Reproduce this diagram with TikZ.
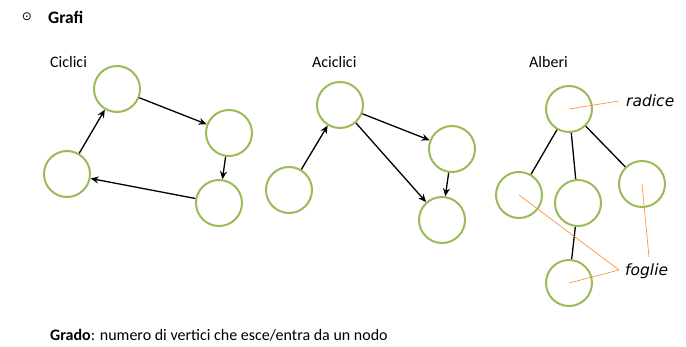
\documentclass[tikz,border=0pt]{standalone}
\usepackage{fontspec}
\setmainfont{Carlito}
\newfontfamily\symbolfont{DejaVu Sans}
\usetikzlibrary{positioning}
\usetikzlibrary{arrows.meta}
\definecolor{vertexGreen}{RGB}{155,187,89}
\definecolor{noteOrange}{RGB}{247,150,70}
\tikzset{
  vertex/.style={circle, draw=vertexGreen, line width=2pt, minimum size=46pt, inner sep=0pt},
  arc/.style={-{Stealth[length=8pt,width=7pt]}, line width=1.3pt, black},
  branch/.style={line width=1.3pt, black},
  note/.style={noteOrange, line width=0.7pt},
  caption/.style={anchor=west, font=\fontsize{16}{18}\selectfont, inner sep=0pt},
  remark/.style={anchor=west, font=\symbolfont\fontsize{15.5}{18}\selectfont\itshape, inner sep=0pt}
}
\begin{document}
\begin{tikzpicture}[x=1pt, y=-1pt]
		\useasboundingbox (0,0) rectangle (686,347);
		\node(bulletMark) at (27,17){\symbolfont\fontsize{12}{12}\selectfont ⊙};
		\node[caption, font=\fontsize{17.5}{20}\selectfont\bfseries](titleLabel) at (48,17){Grafi};
		\node[caption](cycLabel) at (50,62){Ciclici};
		\node[caption](acycLabel) at (312,62){Aciclici};
		\node[caption](treeLabel) at (529,62){Alberi};
		\node[vertex](cycTop) at (117,89){};
		\node[vertex](cycRight) at (229,133){};
		\node[vertex](cycBottom) at (219,203){};
		\node[vertex](cycLeft) at (67,174){};
		\draw[arc] (cycTop) -- (cycRight);
		\draw[arc] (cycRight) -- (cycBottom);
		\draw[arc] (cycBottom) -- (cycLeft);
		\draw[arc] (cycLeft) -- (cycTop);
		\node[vertex](acycTop) at (340,105){};
		\node[vertex](acycRight) at (452,149){};
		\node[vertex](acycBottom) at (442,220){};
		\node[vertex](acycLeft) at (289,190){};
		\draw[arc] (acycLeft) -- (acycTop);
		\draw[arc] (acycTop) -- (acycRight);
		\draw[arc] (acycTop) -- (acycBottom);
		\draw[arc] (acycRight) -- (acycBottom);
		\node[vertex](treeRoot) at (569,109){};
		\node[vertex](treeLeft) at (519,195){};
		\node[vertex](treeMid) at (578,203){};
		\node[vertex](treeRight) at (642,184){};
		\node[vertex](treeLow) at (569,283){};
		\draw[branch] (treeRoot) -- (treeLeft);
		\draw[branch] (treeRoot) -- (treeMid);
		\draw[branch] (treeRoot) -- (treeRight);
		\draw[branch] (treeMid) -- (treeLow);
		\node[remark](rootLabel) at (626,101){radice};
		\node[remark](leafLabel) at (625,271){foglie};
		\coordinate(leafJoin) at (619,270);
		\coordinate(leafTip) at (649,257);
		\draw[note] (treeRoot.center) -- (619,101);
		\draw[note] (treeLeft.center) -- (leafJoin);
		\draw[note] (treeLow.center) -- (leafJoin);
		\draw[note] (treeRight.center) -- (leafTip);
		\node[caption](degreeLabel) at (50,335){\textbf{Grado}: numero di vertici che esce/entra da un nodo};
	\end{tikzpicture}
\end{document}
